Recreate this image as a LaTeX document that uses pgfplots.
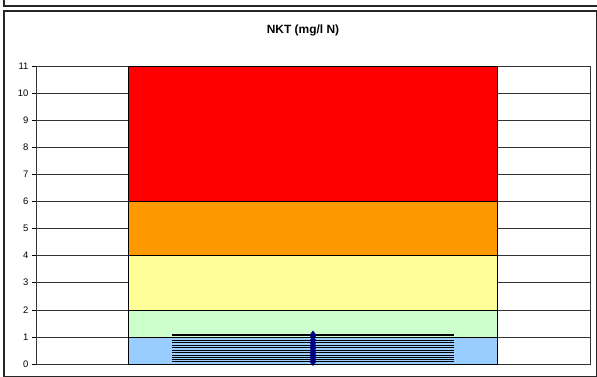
\documentclass[border=0pt]{standalone}
\usepackage{fontspec}
\setmainfont{Liberation Sans}
\usepackage{pgfplots}
\pgfplotsset{compat=1.18}
\definecolor{cblue}{HTML}{99CCFF}
\definecolor{cgreen}{HTML}{CCFFCC}
\definecolor{cyellow}{HTML}{FFFF99}
\definecolor{corange}{HTML}{FF9900}
\definecolor{cred}{HTML}{FF0000}
\definecolor{navy}{HTML}{000080}
\begin{document}
\begin{tikzpicture}
\useasboundingbox (0bp,0bp) rectangle (597bp,377bp);
\draw[line width=1.2bp, black!85] (4bp,380bp) -- (4bp,371bp) -- (597bp,371bp);
\draw[line width=1.2bp, black!85] (4bp,0.6bp) rectangle (596.4bp,366bp);
\node[font=\bfseries\fontsize{12}{14}\selectfont] at (303bp,347bp) {NKT (mg/l N)};
\begin{axis}[
  at={(36bp,13bp)}, anchor=south west,
  scale only axis, width=554bp, height=298bp,
  xmin=-0.75, xmax=0.75, ymin=0, ymax=11,
  xtick=\empty,
  ytick={0,1,...,11},
  ymajorgrids, grid style={black!80, line width=0.6bp},
  tick align=outside, major tick length=4bp,
  ytick pos=left,
  tick style={black, line width=0.6bp},
  axis line style={black!80, line width=0.8bp},
  ticklabel style={font=\fontsize{9.5}{11}\selectfont},
  /pgf/number format/assume math mode=true,
  clip=false,
]
\addplot[fill=cblue, draw=black, line width=0.5bp] coordinates {(-0.5,0) (0.5,0) (0.5,1) (-0.5,1)} -- cycle;
\addplot[fill=cgreen, draw=black, line width=0.5bp] coordinates {(-0.5,1) (0.5,1) (0.5,2) (-0.5,2)} -- cycle;
\addplot[fill=cyellow, draw=black, line width=0.5bp] coordinates {(-0.5,2) (0.5,2) (0.5,4) (-0.5,4)} -- cycle;
\addplot[fill=corange, draw=black, line width=0.5bp] coordinates {(-0.5,4) (0.5,4) (0.5,6) (-0.5,6)} -- cycle;
\addplot[fill=cred, draw=black, line width=0.5bp] coordinates {(-0.5,6) (0.5,6) (0.5,11) (-0.5,11)} -- cycle;
\addplot[only marks, mark=diamond*, mark size=3.8bp, navy,
  error bars/.cd, x dir=both, x explicit,
  error bar style={black, line width=0.9bp},
  error mark options={black, line width=0.8bp, mark size=2.5bp}]
  table[x error=ex] {
x y ex
0 1.08 0.375
0 1.04 0.375
0 0.88 0.375
0 0.78 0.375
0 0.68 0.375
0 0.60 0.375
0 0.50 0.375
0 0.42 0.375
0 0.33 0.375
0 0.25 0.375
0 0.16 0.375
0 0.08 0.375
};
\end{axis}
\end{tikzpicture}
\end{document}
